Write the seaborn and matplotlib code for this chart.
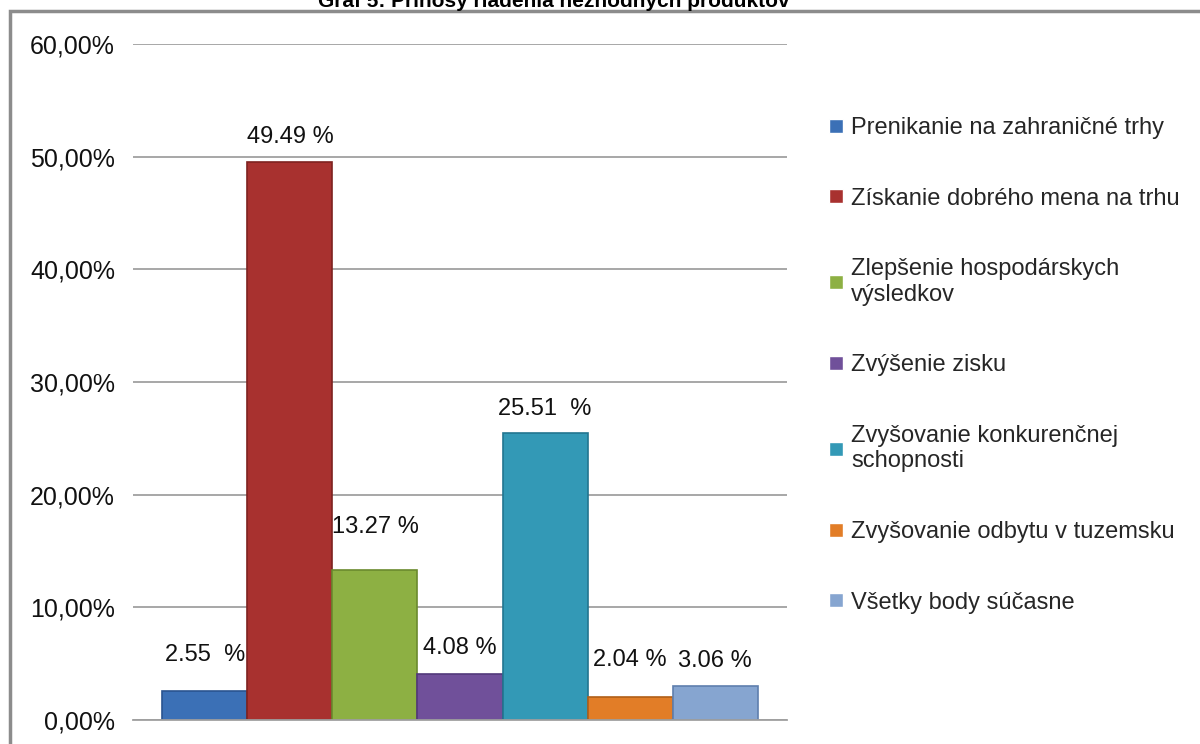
import matplotlib
matplotlib.use("Agg")
import matplotlib.pyplot as plt
import matplotlib.ticker as mticker
from matplotlib.patches import Rectangle
import seaborn as sns
import pandas as pd

# ---- data ----
series = [
    "Prenikanie na zahraničné trhy",
    "Získanie dobrého mena na trhu",
    "Zlepšenie hospodárskych\nvýsledkov",
    "Zvýšenie zisku",
    "Zvyšovanie konkurenčnej\nschopnosti",
    "Zvyšovanie odbytu v tuzemsku",
    "Všetky body súčasne",
]
values = [0.0255, 0.4949, 0.1327, 0.0408, 0.2551, 0.0204, 0.0306]
value_labels = ["2.55  %", "49.49 %", "13.27 %", "4.08 %", "25.51  %", "2.04 %", "3.06 %"]
colors = ["#3b70b6", "#a8312f", "#8db043", "#70509a", "#3399b6", "#e27d27", "#86a5d0"]
edge_colors = ["#2a5490", "#7e2220", "#6b8a2e", "#52397a", "#227590", "#b05f18", "#5f7fae"]
title = "Graf 5: Prínosy riadenia nezhodných produktov"
yticks = [0, 0.1, 0.2, 0.3, 0.4, 0.5, 0.6]

# label offsets above bar tops, in points (layout only)
label_offsets = [26, 18, 31, 19, 17, 27, 18]

df = pd.DataFrame({"cat": [""] * len(series), "series": series, "value": values})

sns.set_theme(style="white")
plt.rcParams["font.family"] = ["Liberation Sans", "DejaVu Sans"]

fig = plt.figure(figsize=(12, 7.44), dpi=100)
W, H = 1200, 744
ax = fig.add_axes([133 / W, 1 - 720 / H, (787 - 133) / W, (720 - 44) / H])

sns.barplot(data=df, x="cat", y="value", hue="series", hue_order=series,
            palette=colors, width=0.91, dodge=True, ax=ax, saturation=1,
            legend=True)

bars = list(ax.patches)
for p, ec in zip(bars, edge_colors):
    p.set_edgecolor(ec)
    p.set_linewidth(1.2)

for p, lab, off in zip(bars, value_labels, label_offsets):
    ax.annotate(lab, (p.get_x() + p.get_width() / 2, p.get_height()),
                xytext=(0, off), textcoords="offset points",
                ha="center", va="center", fontsize=17, color="#111111")

ax.set_xlim(-0.5, 0.5)
ax.set_ylim(0, 0.6)
ax.set_yticks(yticks)
ax.yaxis.set_major_formatter(mticker.FuncFormatter(lambda v, _: f"{v*100:.2f}%".replace(".", ",")))
ax.tick_params(axis="y", labelsize=18, pad=13, length=0, labelcolor="#111111")
ax.tick_params(axis="x", length=0, labelbottom=False)
ax.set_xlabel("")
ax.set_ylabel("")
ax.yaxis.grid(True, color="#a0a0a0", linewidth=1.3)
ax.set_axisbelow(True)
for s in ["top", "right", "left"]:
    ax.spines[s].set_visible(False)
ax.spines["bottom"].set_color("#a0a0a0")
ax.spines["bottom"].set_linewidth(1.3)

handles, labels = ax.get_legend_handles_labels()
ax.legend(handles, labels, loc="upper left",
          bbox_to_anchor=(829 / W, 1 - 117 / H), bbox_transform=fig.transFigure,
          frameon=False, fontsize=17, handlelength=0.6, handleheight=0.55,
          handletextpad=0.33, labelspacing=2.06, borderpad=0, borderaxespad=0)

# frame around the chart
fig.patches.append(Rectangle((10 / W, -0.1), 1.2, 1 - 11 / H + 0.1,
                             transform=fig.transFigure, fill=False,
                             edgecolor="#8c8c8c", linewidth=2.5))

fig.text(554 / W, 1 - 7 / H, title, ha="center", va="baseline",
         fontsize=15, fontweight="bold", color="#000000")

fig.savefig("out.png", dpi=100)
